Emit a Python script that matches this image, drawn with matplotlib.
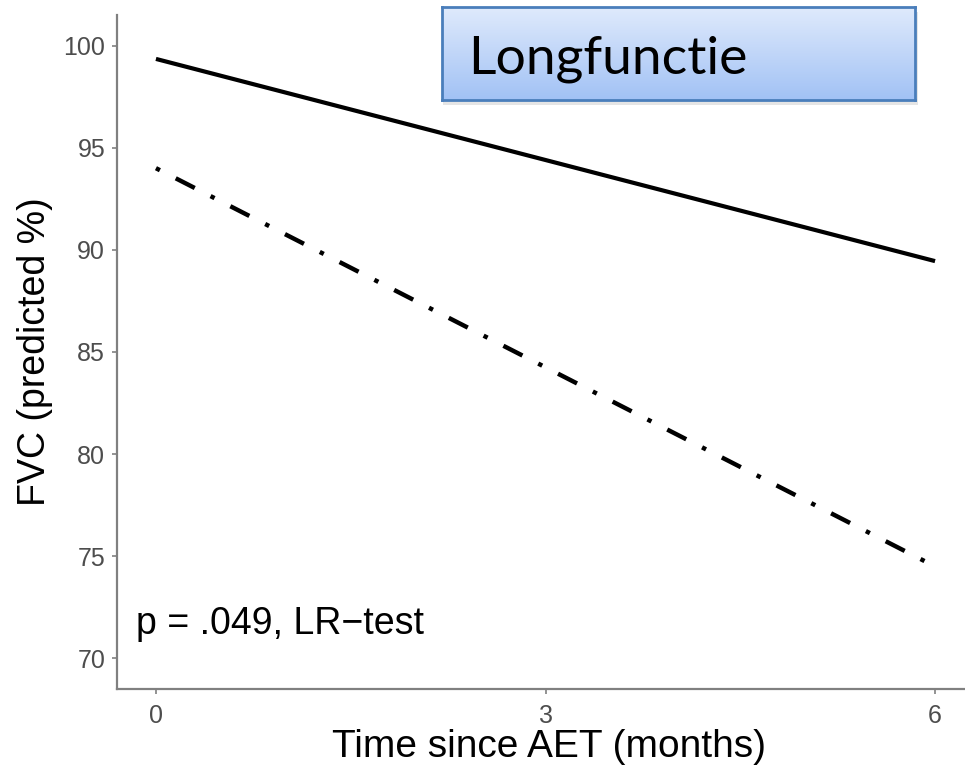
import matplotlib
matplotlib.use('Agg')
import matplotlib.pyplot as plt
import numpy as np
from matplotlib.patches import Rectangle

plt.rcParams['font.family'] = ['Liberation Sans', 'DejaVu Sans']

# data
months = [0, 6]
fvc_solid = [99.35, 89.45]
fvc_dotdash = [94.0, 74.5]
x_ticks = [0, 3, 6]
y_ticks = [70, 75, 80, 85, 90, 95, 100]

W, H = 965, 771
fig = plt.figure(figsize=(W / 100, H / 100), dpi=100)

# axes placed in pixels (right side runs off the figure like the original crop)
left, right, top, bottom = 117, 974, 15, 689
ax = fig.add_axes([left / W, 1 - bottom / H, (right - left) / W, (bottom - top) / H])

ax.plot(months, fvc_solid, color='black', lw=3.0, solid_capstyle='butt')
ax.plot(months, fvc_dotdash, color='black', lw=3.2, dashes=(1, 4.0, 4.8, 4.0))

ax.set_xlim(-0.3, 6.3)
ax.set_ylim(68.5, 101.5)
ax.set_xticks(x_ticks)
ax.set_yticks(y_ticks)

for s in ['top', 'right']:
    ax.spines[s].set_visible(False)
for s in ['left', 'bottom']:
    ax.spines[s].set_color('#808080')
    ax.spines[s].set_linewidth(1.6)
ax.tick_params(colors='#808080', labelcolor='#4d4d4d', labelsize=18,
               length=3.5, width=1.2)
ax.tick_params(axis='y', pad=5)
ax.tick_params(axis='x', pad=7)

ax.set_xlabel('Time since AET (months)', fontsize=28, color='black')
ax.set_ylabel('FVC (predicted %)', fontsize=27, color='black')
ax.xaxis.set_label_coords(0.504, -0.06)
ax.yaxis.set_label_coords(-0.075, 0.5)

ax.text(-0.155, 71.2, 'p = .049, LR\u2212test', fontsize=27, color='black',
        ha='left', va='baseline')

# title box with gradient fill
bx0, bx1, by0, by1 = 442, 915, 7, 100
shadow = Rectangle(((bx0 + 1) / W, 1 - (by1 + 5) / H), (bx1 - bx0 + 2) / W, (by1 - by0) / H,
                   transform=fig.transFigure, facecolor='#aaaaaa', alpha=0.3,
                   edgecolor='none', zorder=5)
fig.patches.append(shadow)
bax = fig.add_axes([bx0 / W, 1 - by1 / H, (bx1 - bx0) / W, (by1 - by0) / H], zorder=6)
top_c = np.array([0xdf, 0xea, 0xfc]) / 255
bot_c = np.array([0xa2, 0xc2, 0xf5]) / 255
t = np.linspace(0, 1, 100)[:, None]
grad = top_c[None, None, :] * (1 - t[:, :, None]) + bot_c[None, None, :] * t[:, :, None]
bax.imshow(grad, aspect='auto', extent=[0, 1, 0, 1])
bax.set_xticks([])
bax.set_yticks([])
for s in bax.spines.values():
    s.set_color('#4a7ebb')
    s.set_linewidth(2)
bax.text(0.055, 0.28, 'Longfunctie', fontsize=38.5, family=['Lato', 'DejaVu Sans'],
         color='black', ha='left', va='baseline', transform=bax.transAxes)

fig.savefig('out.png', dpi=100)
